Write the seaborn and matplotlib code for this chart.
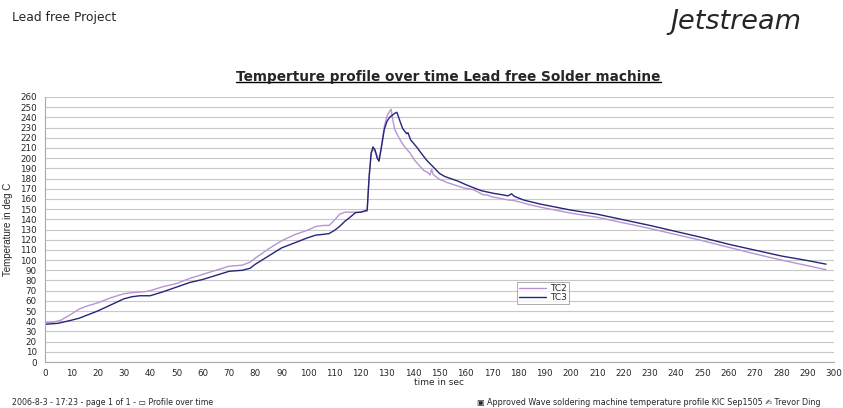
import numpy as np
import pandas as pd
import matplotlib
matplotlib.use("Agg")
import matplotlib.pyplot as plt
import seaborn as sns

# TC2 (light purple)
tc2_time = [0, 3, 6, 10, 13, 16, 20, 25, 30, 33, 38, 40, 45, 50, 55, 60, 65, 70, 75, 78,
            80, 85, 90, 95, 100, 103, 106, 108, 110, 112, 114, 117, 120, 122.5, 123.3, 124.2,
            125, 126, 127, 128, 129, 130, 131, 131.6, 132.2, 133, 135, 136.5, 138.8, 140.5,
            142.6, 144, 145.5, 146.4, 147, 147.6, 149, 150.2, 153, 156.5, 159, 162.9, 164.5,
            166.6, 168, 170, 173, 176, 178, 180.6, 184, 188.2, 200, 210, 220, 230, 240, 250,
            260, 268.5, 280, 290, 297]
tc2_temp = [38.5, 39, 41, 47, 52, 55, 58, 63, 67, 68, 69, 70, 74, 77, 82, 86, 90, 94, 95, 98,
            102, 111, 119, 125, 129.5, 133, 134, 134, 139, 145, 147, 147, 147, 148, 185, 206,
            209, 204, 198, 213, 231, 241, 246, 248, 238, 228, 218, 212, 205, 198,
            192, 188, 186, 183.5, 189, 184, 181, 179, 176, 173, 171, 169, 167,
            164, 164, 162, 160.6, 159, 158.5, 157, 154.5, 152, 146, 142, 136.5, 131, 125, 119,
            112.5, 107, 100, 94.5, 90.5]

# TC3 (dark navy)
tc3_time = [0, 5, 10, 13, 20, 25, 30, 33, 36, 40, 45, 50, 55, 60, 65, 70, 75, 78, 80, 85,
            90, 95, 100, 103, 105, 108, 110, 112, 114, 116, 118, 120, 122.5, 123.2, 124,
            124.7, 125.5, 126.3, 127, 128, 129, 130, 131, 132, 133, 133.8, 135, 136, 137.5,
            138, 139, 141.3, 143, 145.1, 147, 148.9, 150, 152, 155.3, 157, 160, 162.9, 166,
            170.5, 174, 176, 177.4, 178.5, 181.9, 185, 188.2, 200, 210, 220, 230, 240, 250,
            260, 268.5, 280, 290, 297]
tc3_temp = [37, 38, 41, 43, 50, 56, 62, 64, 65, 65, 69, 73.5, 78, 81, 85, 89, 90, 92, 96, 104,
            112, 117, 122, 124.5, 125, 126, 129, 133, 138, 142, 146.5, 147, 149, 180, 205,
            211, 208, 200, 197, 212, 228, 236, 240, 242, 244, 245, 236, 229, 224,
            225, 218, 211, 205, 198, 193, 188, 185, 182, 179, 177.5, 174, 171, 168,
            165.5, 164, 163, 165, 162.5, 159, 157, 155, 149, 145, 139.5, 134, 128, 122,
            115.5, 110.6, 104, 99.5, 96]

x_ticks = list(range(0, 301, 10))
y_ticks = list(range(0, 261, 10))

df = pd.concat([
    pd.DataFrame({"time": tc2_time, "temp": tc2_temp, "probe": "TC2"}),
    pd.DataFrame({"time": tc3_time, "temp": tc3_temp, "probe": "TC3"}),
])

sns.set_style("white")
plt.rcParams["font.family"] = ["DejaVu Sans"]

fig = plt.figure(figsize=(8.43, 4.08), dpi=100)
ax = fig.add_axes([0.0534, 0.1127, 0.9359, 0.6496])

sns.lineplot(data=df, x="time", y="temp", hue="probe", estimator=None, sort=False,
             palette={"TC2": "#b895d2", "TC3": "#25257a"}, linewidth=1.0, ax=ax)

ax.set_xlim(0, 300)
ax.set_ylim(0, 260)
ax.set_xticks(x_ticks)
ax.set_yticks(y_ticks)
ax.tick_params(axis="both", labelsize=6.3, length=2, direction="in", color="#999999", pad=6)
ax.tick_params(axis="x", pad=5)
ax.yaxis.grid(True, color="#c8c8c8", linewidth=0.8)
ax.xaxis.grid(False)
for s in ["top", "right"]:
    ax.spines[s].set_visible(False)
for s in ["left", "bottom"]:
    ax.spines[s].set_color("#aaaaaa")
    ax.spines[s].set_linewidth(0.8)

ax.set_xlabel("time in sec", fontsize=6.5, labelpad=0)
ax.set_ylabel("Temperature in deg C", fontsize=7, labelpad=5,
              family=["Liberation Sans Narrow", "Liberation Sans"])

leg = ax.legend(title=None, loc="upper left", bbox_to_anchor=(0.598, 0.302), fontsize=6.5,
                frameon=True, fancybox=False, handlelength=3.0, borderpad=0.2,
                labelspacing=0.05, handletextpad=0.5, borderaxespad=0)
leg.get_frame().set_edgecolor("#888888")
leg.get_frame().set_linewidth(0.6)

fig.text(0.014, 0.958, "Lead free Project", fontsize=8.9, va="center")
fig.text(0.873, 0.946, "Jetstream", fontsize=19.5, style="italic", family="DejaVu Sans",
         ha="center", va="center")
title = fig.text(0.532, 0.812, "Temperture profile over time Lead free Solder machine",
                 fontsize=9.8, fontweight="bold", ha="center", va="center")
fig.text(0.014, 0.014, "2006-8-3 - 17:23 - page 1 of 1 - \u25ad Profile over time",
         fontsize=5.7, va="center")
fig.text(0.973, 0.014,
         "\u25a3 Approved Wave soldering machine temperature profile KIC Sep1505 \u270d Trevor Ding",
         fontsize=5.8, va="center", ha="right")

# underline the title
fig.canvas.draw()
bb = title.get_window_extent().transformed(fig.transFigure.inverted())
fig.add_artist(plt.Line2D([bb.x0, bb.x1], [bb.y0 + 0.004, bb.y0 + 0.004],
                          color="black", linewidth=1.0, transform=fig.transFigure))

fig.savefig("out.png", dpi=100)
